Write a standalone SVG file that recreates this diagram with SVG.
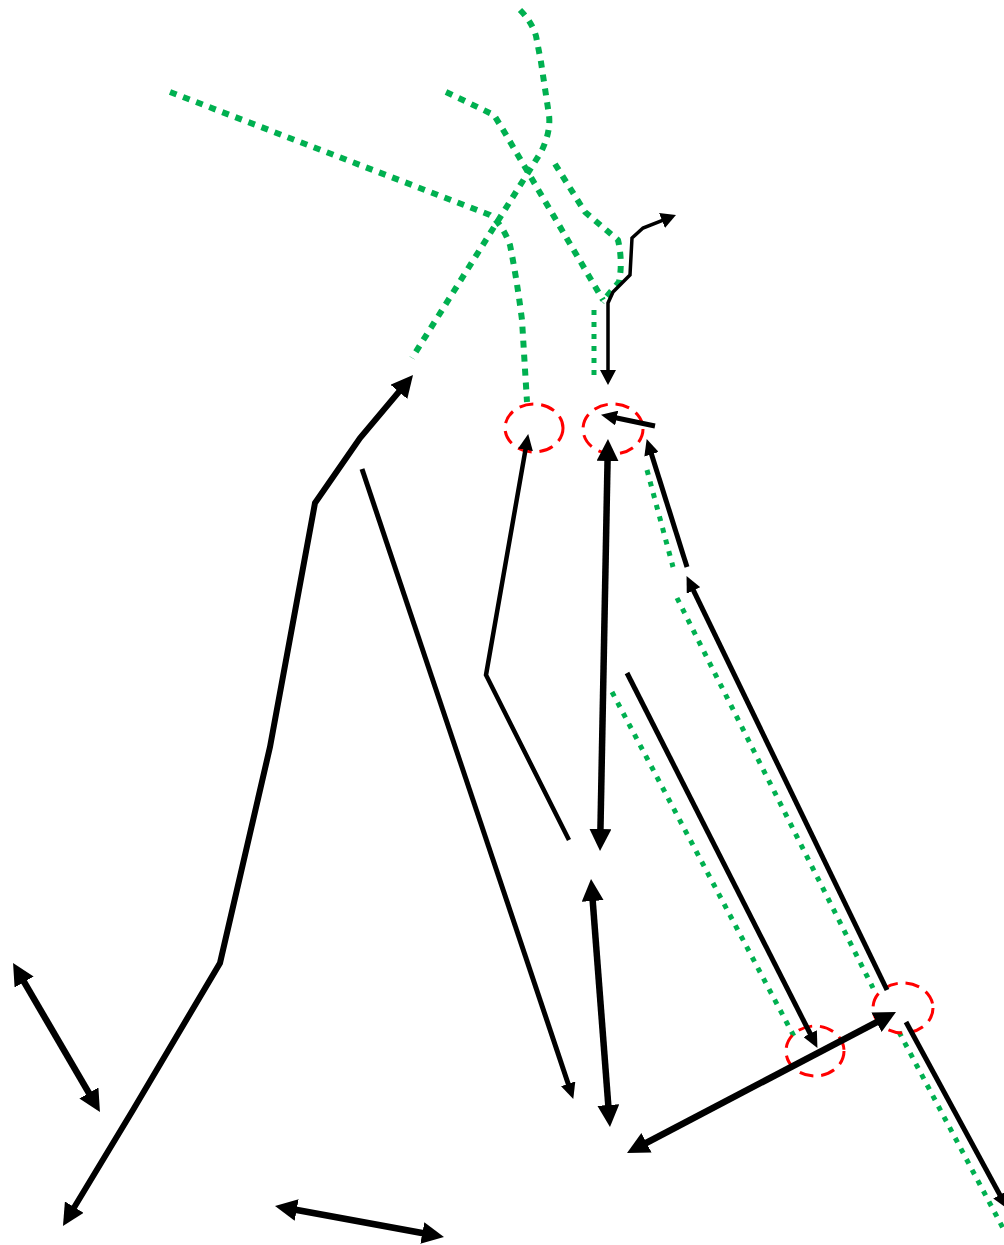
<svg xmlns="http://www.w3.org/2000/svg" width="1004" height="1245" viewBox="0 0 1004 1245">
<style>
.g{fill:none;stroke:#00b050;stroke-width:6;stroke-dasharray:7 7;stroke-linejoin:round}
.gt{fill:none;stroke:#00b050;stroke-width:5;stroke-dasharray:5 7}
.r{fill:none;stroke:#ff0000;stroke-width:3;stroke-dasharray:14 8}
.k{fill:none;stroke:#000;stroke-linejoin:miter}
.w6{stroke-width:6.5}.w5{stroke-width:5}.w4{stroke-width:4.5}.w3{stroke-width:3.5}
</style>
<defs>
<marker id="L" markerUnits="userSpaceOnUse" markerWidth="22" markerHeight="22" refX="8" refY="11" orient="auto-start-reverse"><path d="M0,0 L22,11 L0,22 z" fill="#000"/></marker>
<marker id="M" markerUnits="userSpaceOnUse" markerWidth="16" markerHeight="15" refX="6" refY="7.5" orient="auto-start-reverse"><path d="M0,0 L16,7.5 L0,15 z" fill="#000"/></marker>
<marker id="S" markerUnits="userSpaceOnUse" markerWidth="15" markerHeight="16" refX="6" refY="8" orient="auto-start-reverse"><path d="M0,0 L15,8 L0,16 z" fill="#000"/></marker>
</defs>
<rect width="1004" height="1245" fill="#fff"/>
<g id="green-paths">
<path class="g" d="M520,10 Q532,22 536,36 L541,62 L549,115 Q551,132 541,152 L412,358"/>
<path class="g" d="M170,92 L490,215 Q503,225 510,245 Q517,280 522,320 L527,402"/>
<path class="g" d="M446,92 L494,115 L502,128 L603,300"/>
<path class="g" d="M555,164 L585,212 L618,240 Q623,262 619,282 L602,302"/>
<path class="gt" d="M594,310 L594,376"/>
<path class="gt" d="M647,470 L673,567"/>
<path class="gt" d="M677,598 L873,988"/>
<path class="gt" d="M612,692 L797,1042"/>
<path class="gt" d="M899,1032 L1004,1230"/>
</g>
<g id="nodes">
<g id="n1"><ellipse class="r" cx="534" cy="428" rx="29" ry="24"/></g>
<g id="n2"><ellipse class="r" cx="613" cy="429" rx="30" ry="25"/></g>
<g id="n3"><ellipse class="r" cx="815" cy="1051" rx="29" ry="25"/></g>
<g id="n4"><ellipse class="r" cx="903" cy="1008" rx="30" ry="25"/></g>
</g>
<g id="connectors">
<path class="k w3" d="M667.6,218.3 L643,228 L632,238 L630,275 L613,292 L608,303 L608,376" marker-start="url(#S)" marker-end="url(#S)"/>
<path class="k w5" d="M655,426 L610.8,416.8" marker-end="url(#M)"/>
<path class="k w6" d="M607.7,453 L600.3,837" marker-start="url(#L)" marker-end="url(#L)"/>
<path class="k w5" d="M687,567 L649.7,448.6" marker-end="url(#M)"/>
<path class="k w5" d="M887,990 L690.9,585.1" marker-end="url(#M)"/>
<path class="k w5" d="M627,673 L812.9,1039" marker-end="url(#M)"/>
<path class="k w6" d="M639.4,1146.5 L883.6,1018.5" marker-start="url(#L)" marker-end="url(#L)"/>
<path class="k w5" d="M906,1022 L1002.7,1200.1" marker-end="url(#M)"/>
<path class="k w6" d="M592.1,893 L608.9,1113" marker-start="url(#L)" marker-end="url(#L)"/>
<path class="k w5" d="M362,469 L570.1,1089.5" marker-end="url(#M)"/>
<path class="k w4" d="M569,840 L486,675 L526.5,443.9" marker-end="url(#M)"/>
<path class="k" style="stroke-width:6" d="M70.2,1214 L133,1110 L220,963 L270,747 L315,503 L360,438 L404,385.7" marker-start="url(#L)" marker-end="url(#L)"/>
<path class="k w6" d="M20.1,975.1 L92.9,1099.9" marker-start="url(#L)" marker-end="url(#L)"/>
<path class="k w6" d="M288.8,1208.5 L430.2,1234.5" marker-start="url(#L)" marker-end="url(#L)"/>
</g>
</svg>
